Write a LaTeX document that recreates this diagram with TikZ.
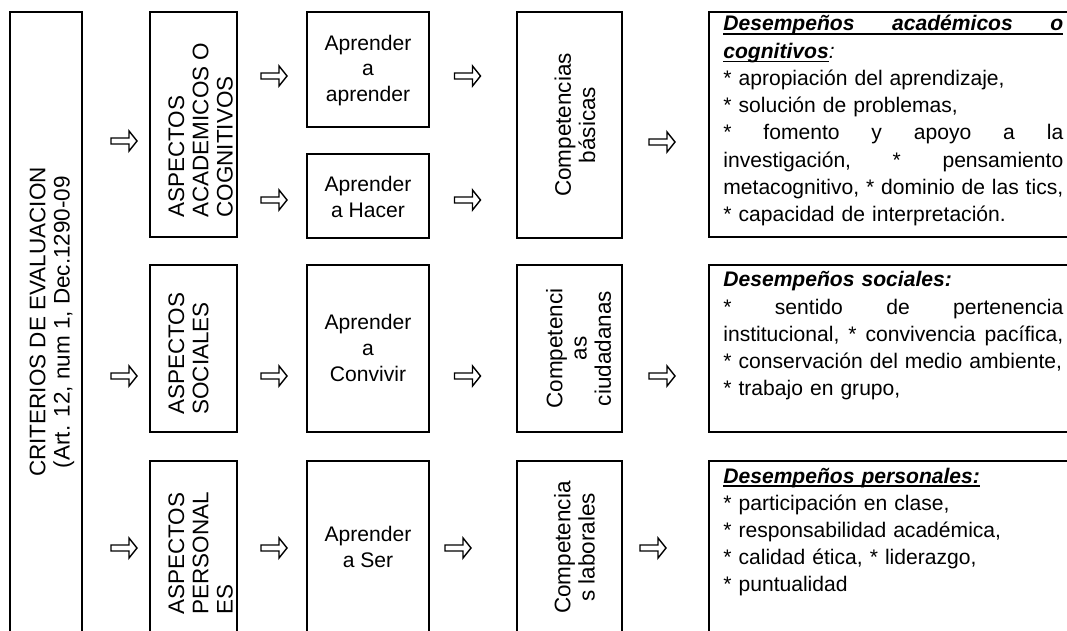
\documentclass[tikz,border=0pt]{standalone}
\usepackage{fontspec}
\setmainfont{Liberation Sans}
\usetikzlibrary{fit}

\newcommand{\subrayado}[1]{\leavevmode\setbox0\hbox{#1}\rlap{\rule[-2.2pt]{\wd0}{0.8pt}}\box0}
\newcommand{\justo}[1]{\leavevmode\makebox[6.8cm][s]{\frenchspacing\spaceskip=0.278em plus 1fil #1}}

\tikzset{
  caja/.style={draw, line width=1.1pt, inner sep=0pt},
  texto/.style={font=\fontsize{12}{14.6}\selectfont, align=center},
  vertical/.style={rotate=90, inner sep=0pt, font=\fontsize{12.8}{13.8}\selectfont},
  desemp/.style={text width=6.8cm, inner sep=0pt, anchor=base west, align=left,
    font=\fontsize{12}{15.5}\selectfont},
  flecha/.pic={\draw[line width=0.8pt] (-13,-3) -- (5,-3) -- (5,-10) -- (13,0)
    -- (5,10) -- (5,3) -- (-13,3) -- cycle;}
}

\begin{document}
\begin{tikzpicture}[x=0.02cm, y=-0.02cm]
\useasboundingbox (0,0) rectangle (1067,631);
\clip (0,0) rectangle (1067,631);
% criterios
\node[caja, fit={(10,12) (82,634)}] (criterios) {};
\node[vertical, align=center] (tcriterios) at (52,322)
  {CRITERIOS DE EVALUACION\\(Art. 12, num 1, Dec.1290-09};
% aspectos
\node[caja, fit={(150,12) (237,237)}] (academicos) {};
\node[caja, fit={(150,265) (237,432)}] (sociales) {};
\node[caja, fit={(150,461) (237,634)}] (personales) {};
\node[vertical, align=left, anchor=north west] (tacademicos) at (168,218)
  {ASPECTOS\\ACADEMICOS O\\COGNITIVOS};
\node[vertical, align=left, anchor=north west] (tsociales) at (168,415)
  {ASPECTOS\\SOCIALES};
\node[vertical, align=left, anchor=north west] (tpersonales) at (168,615)
  {ASPECTOS\\PERSONAL\\ES};
% aprender
\node[caja, fit={(307,12) (429,127)}] (aprender) {};
\node[caja, fit={(307,154) (429,238)}] (hacer) {};
\node[caja, fit={(307,265) (429,432)}] (convivir) {};
\node[caja, fit={(307,461) (429,634)}] (ser) {};
\node[texto] (taprender) at (368,70.5) {Aprender\\a\\aprender};
\node[texto] (thacer) at (368,197) {Aprender\\a Hacer};
\node[texto] (tconvivir) at (368,348) {Aprender\\a\\Convivir};
\node[texto] (tser) at (368,547) {Aprender\\a Ser};
% competencias
\node[caja, fit={(517,12) (622,238)}] (basicas) {};
\node[caja, fit={(517,265) (622,432)}] (ciudadanas) {};
\node[caja, fit={(517,461) (622,634)}] (laborales) {};
\node[vertical, align=center] (tbasicas) at (575,125) {Competencias\\básicas};
\node[vertical, align=center] (tciudadanas) at (578.5,348.5) {Competenci\\as\\ciudadanas};
\node[vertical, align=center] (tlaborales) at (574.5,547.5) {Competencia\\s laborales};
% desempenos
\node[caja, fit={(709,12) (1075,237)}] (dacademicos) {};
\node[caja, fit={(709,265) (1075,432)}] (dsociales) {};
\node[caja, fit={(709,461) (1075,634)}] (dpersonales) {};
\node[desemp] (tdacademicos) at (723,31) {%
  \subrayado{\justo{\textbf{\textit{Desempeños académicos o}}}}\\
  \subrayado{\textbf{\textit{cognitivos}}}\textit{:}\\
  {*} apropiación del aprendizaje,\\
  {*} solución de problemas,\\
  \justo{* fomento y apoyo a la}\\
  \justo{investigación, * pensamiento}\\
  \justo{metacognitivo, * dominio de las tics,}\\
  {*} capacidad de interpretación.};
\node[desemp] (tdsociales) at (723,287) {%
  \textbf{\textit{Desempeños sociales:}}\\
  \justo{* sentido de pertenencia}\\
  \justo{institucional, * convivencia pacífica,}\\
  {*} conservación del medio ambiente,\\
  {*} trabajo en grupo,};
\node[desemp] (tdpersonales) at (723,483) {%
  \subrayado{\textbf{\textit{Desempeños personales:}}}\\
  {*} participación en clase,\\
  {*} responsabilidad académica,\\
  {*} calidad ética, * liderazgo,\\
  {*} puntualidad};
% flechas
\foreach \x/\y in {124/141, 124/376, 124/548, 274/76, 274/200, 274/376, 274/548,
  467.5/76, 467.5/200, 467.5/376, 458/548, 662/142, 662/376, 653/548}
  \pic at (\x,\y) {flecha};
\end{tikzpicture}
\end{document}
